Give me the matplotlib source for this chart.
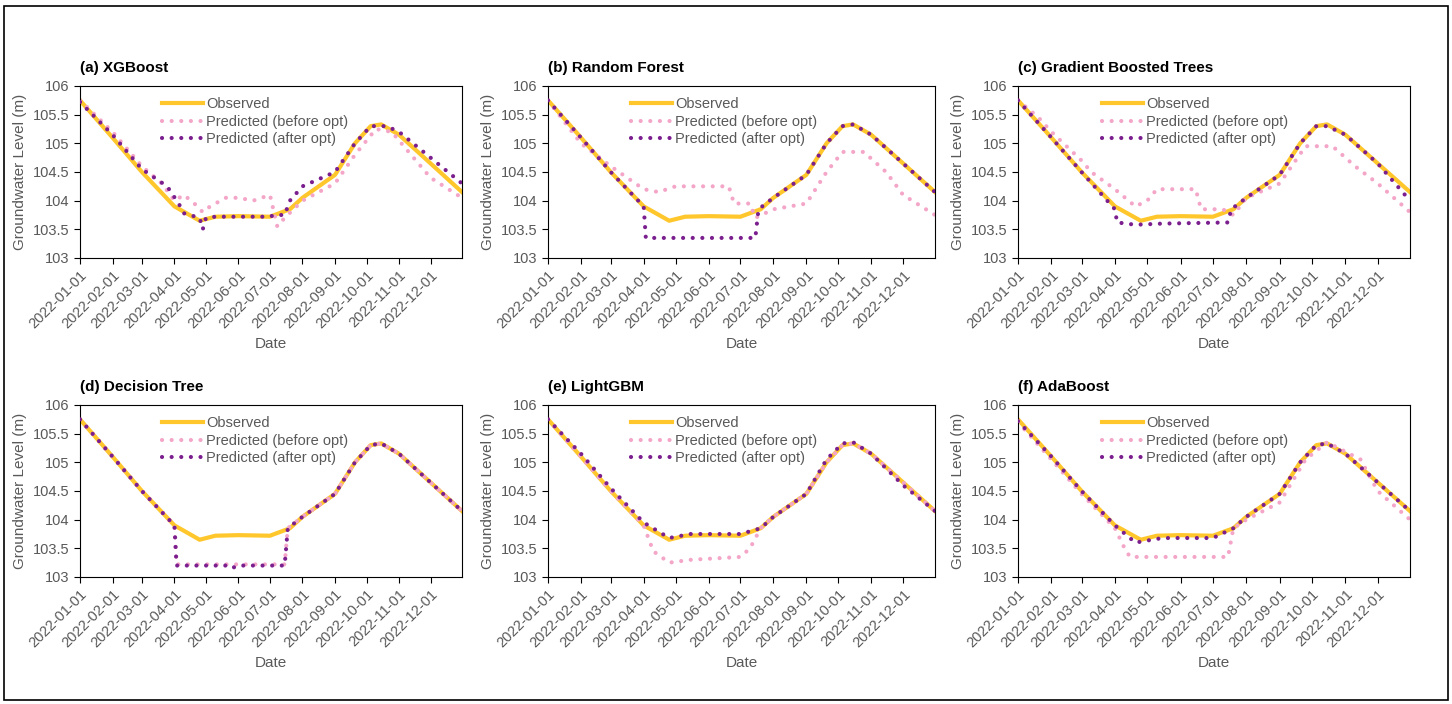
import matplotlib.pyplot as plt
import pandas as pd

obs_d = ['01-01','02-01','03-01','04-01','04-25','05-10','06-01','07-01','07-20','08-01','09-01','09-20','10-05','10-15','11-01','12-01','12-31']
obs_v = [105.75,105.1,104.5,103.9,103.65,103.72,103.73,103.72,103.85,104.05,104.45,105.0,105.3,105.33,105.15,104.65,104.15]

titles = ['(a) XGBoost','(b) Random Forest','(c) Gradient Boosted Trees',
          '(d) Decision Tree','(e) LightGBM','(f) AdaBoost']

a_bef_d = ['01-01','02-01','03-01','03-20','04-01','04-10','04-20','04-28','05-05','05-20','06-01','06-15','07-01','07-08','07-15','08-01','09-01','09-20','10-10','10-25','12-01','12-31']
a_bef_v = [105.75,105.2,104.6,104.3,104.0,104.1,103.95,103.8,103.9,104.05,104.05,104.0,104.1,103.55,103.7,104.0,104.3,104.8,105.25,105.2,104.4,104.05]
a_aft_d = ['01-01','02-01','03-01','03-25','04-05','04-10','04-25','04-28','05-01','05-10','07-01','07-05','07-15','07-20','08-01','09-01','09-20','10-05','10-20','11-01','12-01','12-31']
a_aft_v = [105.72,105.15,104.55,104.25,103.95,103.78,103.7,103.5,103.7,103.72,103.72,103.75,103.75,104.0,104.25,104.5,105.0,105.3,105.3,105.2,104.75,104.3]

b_bef_d = ['01-01','02-01','03-01','04-01','04-15','05-01','06-01','06-20','06-25','07-10','07-15','08-01','09-01','09-20','10-05','10-25','11-15','12-01','12-31']
b_bef_v = [105.75,105.0,104.6,104.2,104.15,104.25,104.25,104.25,103.95,103.95,103.7,103.85,103.95,104.5,104.85,104.85,104.5,104.1,103.75]
b_aft_d = ['01-01','02-01','03-01','04-01','04-03','07-15','07-18','08-01','09-01','09-20','10-05','10-15','11-01','12-01','12-31']
b_aft_v = [105.75,105.1,104.5,103.9,103.35,103.35,103.85,104.05,104.45,105.0,105.3,105.33,105.15,104.65,104.15]

c_bef_d = ['01-01','01-20','02-01','02-15','03-01','03-10','04-01','04-20','05-01','05-10','06-01','06-15','06-20','07-10','07-20','08-01','09-01','09-25','10-20','11-10','12-01','12-31']
c_bef_v = [105.75,105.45,105.2,104.95,104.7,104.5,104.2,103.9,104.0,104.2,104.2,104.2,103.85,103.85,103.75,104.05,104.3,104.95,104.95,104.6,104.3,103.8]
c_aft_d = ['01-01','02-01','03-01','04-01','04-03','04-20','05-15','07-15','07-18','08-01','09-01','09-20','10-05','10-15','11-01','12-01','12-31']
c_aft_v = [105.75,105.1,104.5,103.85,103.62,103.58,103.6,103.62,103.85,104.05,104.45,105.0,105.3,105.3,105.15,104.65,104.0]

d_bef_d = ['01-01','02-01','03-01','04-01','04-03','07-15','07-18','08-01','09-01','09-20','10-05','10-15','11-01','12-01','12-31']
d_bef_v = [105.75,105.1,104.5,103.9,103.22,103.22,103.85,104.05,104.45,105.0,105.3,105.33,105.15,104.65,104.15]
d_aft_d = ['01-01','02-01','03-01','04-01','04-03','05-20','05-25','06-01','07-15','07-18','08-01','09-01','09-20','10-05','10-15','11-01','12-01','12-31']
d_aft_v = [105.75,105.1,104.5,103.9,103.2,103.2,103.15,103.2,103.2,103.85,104.05,104.45,105.0,105.3,105.33,105.15,104.65,104.15]

e_bef_d = ['01-01','02-01','03-01','04-01','04-10','04-25','05-15','07-01','07-10','07-20','08-01','09-01','09-20','10-05','10-15','11-01','12-01','12-31']
e_bef_v = [105.75,105.1,104.5,103.9,103.45,103.25,103.3,103.35,103.5,103.85,104.05,104.45,105.0,105.3,105.33,105.15,104.65,104.15]
e_aft_d = ['01-01','02-01','03-01','04-01','04-25','05-15','07-01','07-20','08-01','09-01','09-20','10-05','10-15','11-01','12-01','12-31']
e_aft_v = [105.75,105.15,104.55,103.95,103.68,103.75,103.75,103.85,104.05,104.45,105.05,105.33,105.35,105.15,104.6,104.15]

f_bef_d = ['01-01','02-01','03-01','04-01','04-10','04-15','07-15','07-20','08-01','09-01','09-25','10-15','11-15','12-01','12-31']
f_bef_v = [105.7,105.05,104.45,103.85,103.5,103.35,103.35,103.85,104.0,104.3,105.05,105.35,105.05,104.5,104.0]
f_aft_d = ['01-01','02-01','03-01','04-01','04-20','05-15','07-01','07-20','08-01','09-01','09-20','10-05','10-15','11-01','12-01','12-31']
f_aft_v = [105.72,105.1,104.5,103.9,103.6,103.68,103.68,103.85,104.05,104.45,105.0,105.3,105.33,105.15,104.65,104.15]

before = [(a_bef_d,a_bef_v),(b_bef_d,b_bef_v),(c_bef_d,c_bef_v),(d_bef_d,d_bef_v),(e_bef_d,e_bef_v),(f_bef_d,f_bef_v)]
after = [(a_aft_d,a_aft_v),(b_aft_d,b_aft_v),(c_aft_d,c_aft_v),(d_aft_d,d_aft_v),(e_aft_d,e_aft_v),(f_aft_d,f_aft_v)]

def dt(lst):
    return pd.to_datetime(['2022-' + s for s in lst])

plt.rcParams['font.family'] = ['Liberation Sans', 'DejaVu Sans']
fig = plt.figure(figsize=(14.52, 7.04), dpi=100)
fig.patches.append(plt.Rectangle((0.003, 0.006), 0.994, 0.986, transform=fig.transFigure,
                                 fill=False, edgecolor='black', linewidth=1.2))

lefts = [80, 548, 1018]
widths = [382, 387, 392]
tops = [86, 405]
grey = '#595959'
dots = (0, (0.01, 2.3))
for i in range(6):
    r, c = divmod(i, 3)
    ax = fig.add_axes([lefts[c] / 1452, 1 - (tops[r] + 172) / 704, widths[c] / 1452, 172 / 704])
    ax.plot(dt(obs_d), obs_v, color='#FFC72C', lw=3, label='Observed', zorder=1)
    bd, bv = before[i]
    ax.plot(dt(bd), bv, color='#F4A6C8', lw=3, linestyle=dots,
            dash_capstyle='round', label='Predicted (before opt)', zorder=2)
    ad, av = after[i]
    ax.plot(dt(ad), av, color='#7B1F8F', lw=3, linestyle=dots,
            dash_capstyle='round', label='Predicted (after opt)', zorder=3)
    ax.set_xlim(pd.Timestamp('2022-01-01'), pd.Timestamp('2022-12-31'))
    ax.set_ylim(103, 106)
    ax.set_yticks([103, 103.5, 104, 104.5, 105, 105.5, 106])
    ax.set_yticklabels(['103', '103.5', '104', '104.5', '105', '105.5', '106'])
    ticks = pd.date_range('2022-01-01', '2022-12-01', freq='MS')
    ax.set_xticks(ticks)
    ax.set_xticklabels([t.strftime('%Y-%m-%d') for t in ticks], rotation=45, ha='right',
                       rotation_mode='anchor')
    ax.tick_params(labelsize=10.5, colors='black', labelcolor=grey, length=4)
    ax.set_xlabel('Date', fontsize=11, color=grey)
    ax.set_ylabel('Groundwater Level (m)', fontsize=11, color=grey)
    ax.set_title(titles[i], loc='left', fontweight='bold', fontsize=11, pad=10)
    leg = ax.legend(loc='upper left', bbox_to_anchor=(0.2, 0.97), frameon=False,
                    fontsize=10.5, handlelength=2.8, handletextpad=0.2, labelspacing=0.25,
                    borderaxespad=0)
    for t in leg.get_texts():
        t.set_color(grey)

fig.savefig('out.png', dpi=100)
